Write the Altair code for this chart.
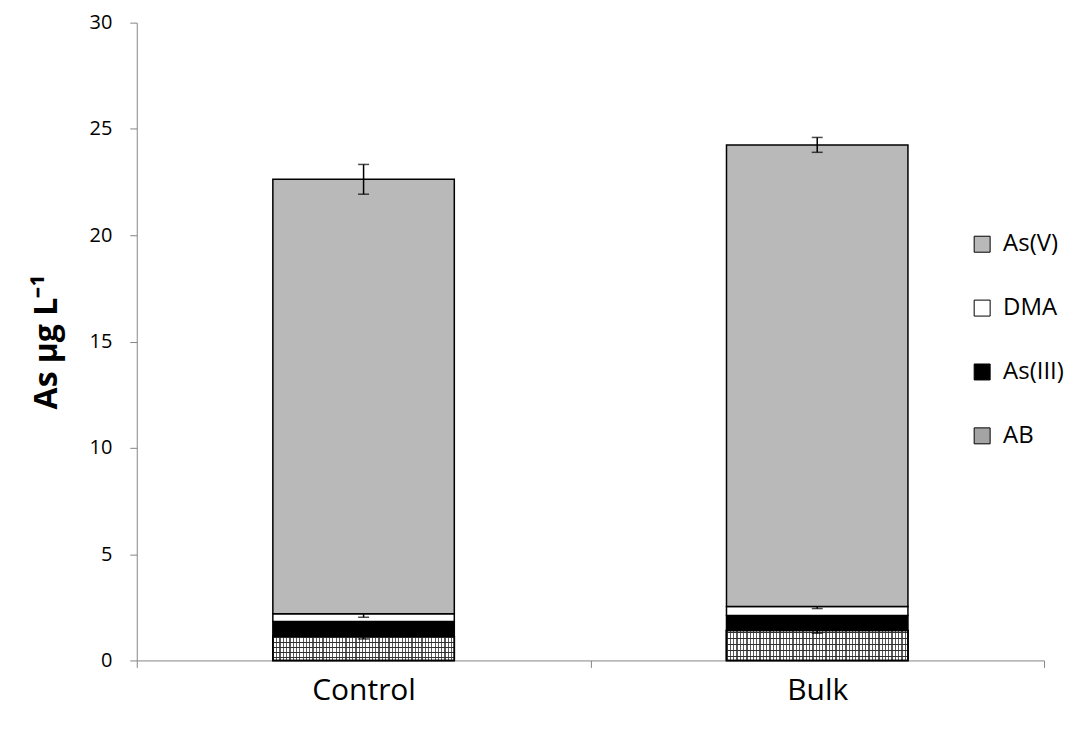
import altair as alt
import pandas as pd

categories = ["Control", "Bulk"]
series = ["AB", "As(III)", "DMA", "As(V)"]
legend_order = ["As(V)", "DMA", "As(III)", "AB"]
ab = [1.13, 1.41]
as3 = [0.70, 0.70]
dma = [0.37, 0.43]
as5 = [20.43, 21.71]
ab_err = [0.12, 0.13]
as3_err = [0.0, 0.0]
dma_err = [0.17, 0.10]
as5_err = [0.70, 0.35]

values = {"AB": ab, "As(III)": as3, "DMA": dma, "As(V)": as5}
errors = {"AB": ab_err, "As(III)": as3_err, "DMA": dma_err, "As(V)": as5_err}

rows = []
for ci, cat in enumerate(categories):
    base = 0.0
    for si, s in enumerate(series):
        v = values[s][ci]
        top = base + v
        e = errors[s][ci]
        is_top = si == len(series) - 1
        rows.append({
            "cat": cat, "series": s, "start": base, "end": top, "err": e,
            "lo": top - e, "hi": top + e if is_top else top,
        })
        base = top
df = pd.DataFrame(rows)

FONT = "Open Sans"

x_enc = alt.X("cat:N", sort=categories, title=None,
              scale=alt.Scale(paddingInner=0, paddingOuter=0),
              axis=alt.Axis(labelFontSize=30, labelColor="#000000", labelPadding=8,
                            tickBand="extent", tickSize=7, tickColor="#868686",
                            domainColor="#868686", labelAngle=0, grid=False,
                            labelFont=FONT))
y_scale = alt.Scale(domain=[0, 30], nice=False)
y_enc = alt.Y("start:Q", scale=y_scale,
              axis=alt.Axis(values=[0, 5, 10, 15, 20, 25, 30], grid=False,
                            tickSize=7, tickColor="#868686", domainColor="#868686",
                            labelFontSize=20, labelColor="#000000", labelPadding=18,
                            labelFont=FONT, title="As µg L⁻¹", titleFontSize=32,
                            titleFont=FONT, titleFontWeight="bold", titleColor="#000000",
                            titlePadding=26))

bars = alt.Chart(df).mark_bar(width=alt.RelativeBandSize(0.4), stroke="black",
                              strokeWidth=1.5).encode(
    x=x_enc, y=y_enc, y2="end:Q",
    color=alt.Color("series:N",
                    scale=alt.Scale(domain=legend_order,
                                    range=["#b9b9b9", "#ffffff", "#000000", "#a4a4a4"]),
                    legend=alt.Legend(title=None, orient="none", legendX=835, legendY=210,
                                      labelFontSize=24, labelFont=FONT, labelColor="#000000",
                                      symbolType="square", symbolSize=256,
                                      symbolStrokeColor="black", symbolStrokeWidth=1,
                                      rowPadding=40, labelOffset=9, padding=0)),
)

# vertical grid lines texture for AB
nv = 55
vstops = []
for i in range(nv):
    o = i / nv
    m = (i + 0.38) / nv
    vstops += [alt.GradientStop(offset=o, color="#5a5a5a"),
               alt.GradientStop(offset=m, color="#5a5a5a"),
               alt.GradientStop(offset=m, color="#ffffff"),
               alt.GradientStop(offset=(i + 1) / nv, color="#ffffff")]
vgrad = alt.LinearGradient(gradient="linear", stops=vstops, x1=0, x2=1, y1=0, y2=0)

nh = 5
hstops = []
for i in range(nh):
    o = i / nh
    m = (i + 0.2) / nh
    hstops += [alt.GradientStop(offset=o, color="rgba(255,255,255,0)"),
               alt.GradientStop(offset=m - 0.0001, color="rgba(255,255,255,0)"),
               alt.GradientStop(offset=m, color="#303030"),
               alt.GradientStop(offset=m + 0.2 / nh, color="#303030"),
               alt.GradientStop(offset=m + 0.2 / nh, color="rgba(255,255,255,0)"),
               alt.GradientStop(offset=(i + 1) / nh, color="rgba(255,255,255,0)")]
hgrad = alt.LinearGradient(gradient="linear", stops=hstops, x1=0, x2=0, y1=0, y2=1)

ab_base = alt.Chart(df).transform_filter(alt.datum.series == "AB")
ab_v = ab_base.mark_bar(width=alt.RelativeBandSize(0.4), fill=vgrad, stroke="black",
                        strokeWidth=1.5).encode(x=x_enc, y=y_enc, y2="end:Q")
ab_h = ab_base.mark_bar(width=alt.RelativeBandSize(0.4), fill=hgrad, stroke="black",
                        strokeWidth=1.5).encode(x=x_enc, y=y_enc, y2="end:Q")

err_df = df[df["err"] > 0]
err_rule = alt.Chart(err_df).mark_rule(color="black", strokeWidth=1.5).encode(
    x=alt.X("cat:N", sort=categories), y=alt.Y("lo:Q", scale=y_scale), y2="hi:Q")
cap_lo = alt.Chart(err_df).mark_tick(color="black", size=11, thickness=1.5,
                                     orient="horizontal").encode(
    x=alt.X("cat:N", sort=categories), y=alt.Y("lo:Q", scale=y_scale))
cap_hi = alt.Chart(err_df[err_df["series"] == "As(V)"]).mark_tick(
    color="black", size=11, thickness=1.5, orient="horizontal").encode(
    x=alt.X("cat:N", sort=categories), y=alt.Y("hi:Q", scale=y_scale))

chart = alt.layer(bars, ab_v, ab_h, err_rule, cap_lo, cap_hi).properties(
    width=909, height=639,
    padding={"left": 22, "top": 4, "right": 0, "bottom": 5},
).configure_view(stroke=None).configure_axis(domainWidth=1, tickWidth=1)

chart.save("out.html", embed_options={"renderer": "svg", "actions": False})
